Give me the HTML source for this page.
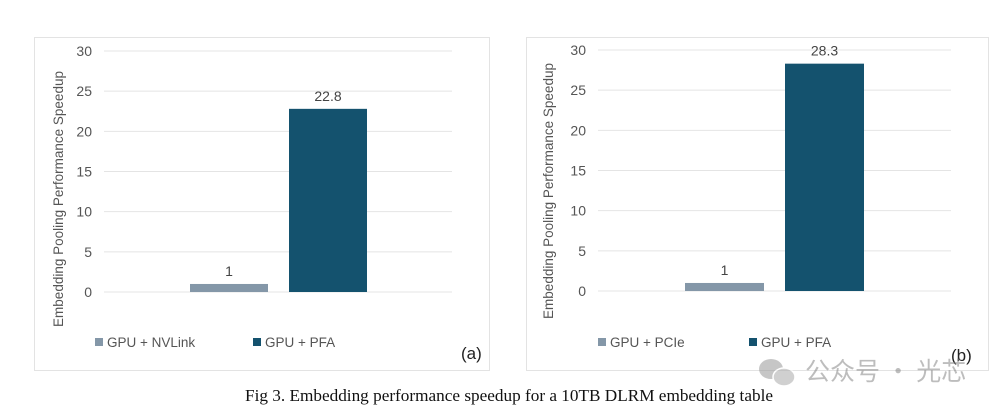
<!DOCTYPE html>
<html><head><meta charset="utf-8"><style>
body{margin:0;width:1006px;height:411px;background:#fff;overflow:hidden}
svg{display:block}
</style></head><body>
<svg width="1006" height="411" font-family="Liberation Sans, sans-serif">
<g id="root"></g>
<text x="509" y="401" text-anchor="middle" font-family="Liberation Serif, serif" font-size="16.5" textLength="528" lengthAdjust="spacingAndGlyphs" fill="#111">Fig 3. Embedding performance speedup for a 10TB DLRM embedding table</text>
<g opacity="0.55">
<ellipse cx="771" cy="369" rx="12" ry="10" fill="#999"/>
<ellipse cx="784" cy="377" rx="11" ry="9" fill="#aaa" stroke="#fff" stroke-width="1.5"/>
<text x="805" y="380" font-family="Noto Sans CJK SC, sans-serif" font-size="25" fill="#888">公众号 · 光芯</text>
</g>
</svg>
<script>
const categoriesA=["GPU + NVLink","GPU + PFA"];
const valuesA=[1,22.8];
const categoriesB=["GPU + PCIe","GPU + PFA"];
const valuesB=[1,28.3];
const ticks=[0,5,10,15,20,25,30];
const colors=["#8497a8","#14526e"];
const NS="http://www.w3.org/2000/svg";
const root=document.getElementById('root');
function mk(t,a,p){const e=document.createElementNS(NS,t);for(const k in a)e.setAttribute(k,a[k]);(p||root).appendChild(e);return e;}
function chart(cfg,cats,vals,tag){
  const g=mk('g',{});
  
  
  const fr=mk('rect',{x:cfg.bx,y:cfg.by,width:cfg.bw,height:cfg.bh,fill:'#fff',stroke:'#e3e3e3'},g);
  
  
  const y=v=>cfg.y0+(cfg.y30-cfg.y0)*v/30;
  ticks.forEach(t=>{
    const l=mk('line',{x1:cfg.gx1,x2:cfg.gx2,y1:y(t),y2:y(t),stroke:'#e4e4e4','stroke-width':1},g);
    
    
    const tx=mk('text',{x:cfg.tickX,y:y(t)+5,'text-anchor':'end','font-size':14,fill:'#555'},g);
    tx.textContent=t;
    
    
  });
  vals.forEach((v,i)=>{
    const x=cfg.barX[i];
    const r=mk('rect',{x:x,y:y(v),width:cfg.barW,height:y(0)-y(v),fill:colors[i]},g);
    
    
    const lb=mk('text',{x:x+cfg.barW/2,y:y(v)-8,'text-anchor':'middle','font-size':14,fill:'#444'},g);
    lb.textContent=v;
    
    
    const sq=mk('rect',{x:cfg.legX[i],y:338,width:8,height:8,fill:colors[i]},g);
    
    
    const lt=mk('text',{x:cfg.legX[i]+12,y:347,'font-size':13.5,fill:'#555'},g);
    lt.textContent=cats[i];
    
    
  });
  const yt=mk('text',{transform:`translate(${cfg.titleX},${cfg.titleY}) rotate(-90)`,'text-anchor':'middle','font-size':13.5,fill:'#555'},g);
  yt.textContent='Embedding Pooling Performance Speedup';
  
  
  const pl=mk('text',{x:cfg.panX,y:cfg.panY,'font-size':17,fill:'#222'},g);
  pl.textContent=cfg.panel;
  
  
}
chart({bx:34.5,by:37.5,bw:455,bh:333,y0:292,y30:51,gx1:104,gx2:452,tickX:92,barX:[190,289],barW:78,legX:[95,253],titleX:63,titleY:199,panX:461,panY:359,panel:'(a)'},categoriesA,valuesA,'a');
chart({bx:526.5,by:37.5,bw:462,bh:333,y0:291,y30:50,gx1:598,gx2:951,tickX:586,barX:[685,785],barW:79,legX:[598,749],titleX:553,titleY:191,panX:951,panY:361,panel:'(b)'},categoriesB,valuesB,'b');
</script>
</body></html>
